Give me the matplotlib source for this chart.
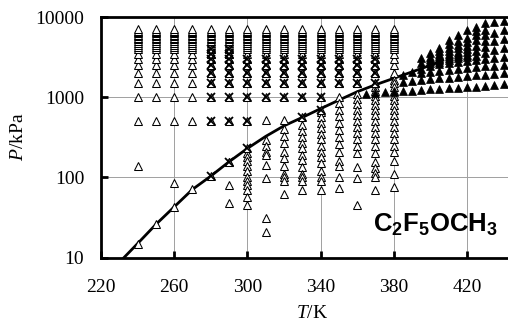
import matplotlib
matplotlib.use("Agg")
import matplotlib.pyplot as plt

# ---------------- data ----------------
# saturation (vapour-pressure) curve
sat_T = [232.5, 240, 250, 260, 270, 280, 290, 300, 310, 320, 330, 340,
         350, 360, 370, 380, 390, 400, 406.8]
sat_P = [10, 15, 26, 43, 71, 104, 157, 230, 325, 440, 560, 720,
         920, 1170, 1430, 1720, 2070, 2500, 2890]

# open triangles: compressed-liquid isotherms (levels above saturation)
liq_T = [240, 250, 260, 270, 280, 290, 300, 310, 320, 330, 340, 350, 360, 370, 380]
liq_P_levels = [1500, 2000, 2500, 3000, 3500, 4000, 4250, 4500, 4750, 5000,
                5250, 5500, 5750, 6000, 6250, 6500, 6750, 7000]
liq_Psat = [15, 26, 43, 71, 104, 157, 230, 325, 440, 560, 720, 920, 1170, 1430, 1720]

# additional open triangles (saturation points, low isobars, odd points)
open_extra_T = [240, 250, 260, 270, 290,
                240, 260,
                240, 250, 260, 270, 240, 250, 260, 270,
                310, 320, 350]
open_extra_P = [15, 26, 43, 71, 157,
                140, 85,
                500, 500, 500, 500, 1000, 1000, 1000, 1000,
                520, 520, 1000]

# open triangles: vapour-phase isotherms (below saturation)
vap_T = [290, 300, 310, 320, 330, 340, 350, 360, 370, 380]
vap_P = [
    [80, 48],
    [200, 180, 160, 140, 120, 100, 90, 80, 70, 57, 45],
    [290, 250, 210, 190, 145, 98, 31, 21],
    [400, 330, 270, 210, 175, 140, 110, 100, 90, 63],
    [450, 380, 320, 270, 230, 190, 165, 135, 110, 100, 90, 70],
    [650, 560, 480, 410, 350, 300, 250, 210, 180, 150, 120, 100, 90, 70],
    [850, 700, 580, 480, 390, 320, 265, 210, 160, 140, 100, 74],
    [1100, 950, 820, 700, 600, 510, 430, 360, 300, 250, 200, 136, 98, 45],
    [1350, 1200, 1050, 920, 800, 700, 600, 510, 430, 360, 300, 250, 200,
     157, 130, 113, 100, 70],
    [1650, 1500, 1350, 1200, 1050, 920, 800, 700, 600, 510, 430, 360, 300,
     250, 210, 160, 110, 77],
]

# crosses: second data set (plotted over triangles)
x_T = [280, 290, 300, 310, 320, 330, 340, 350, 360, 370]
x_P_levels = [1500, 2000, 2500, 3000]
x_extra_T = [280, 290, 300, 330, 340,
             280, 290, 300,
             280, 290, 300, 310, 320, 330, 340,
             280, 280, 290, 290]
x_extra_P = [104, 157, 230, 560, 700,
             500, 500, 500,
             1000, 1000, 1000, 1000, 1000, 1000, 1000,
             3500, 4000, 3500, 4000]

# filled triangles: isochoric data (vapour / supercritical)
sc_T = [365, 370, 375, 380, 385, 390, 395, 400, 405, 410, 415, 420,
        425, 430, 435, 440]
sc_P = [
    [1100],
    [1120],
    [1150],
    [1170],
    [1190, 1560, 1900],
    [1210, 1600, 2050],
    [1230, 1640, 2000, 2250, 2650, 3050],
    [1250, 1680, 2060, 2480, 2700, 2850, 3000, 3200, 3550],
    [1270, 1720, 2120, 2580, 2750, 2900, 3000, 3100, 3250, 3500, 3800, 4150],
    [1290, 1760, 2180, 2660, 2950, 3100, 3250, 3450, 3750, 4150, 4650, 5170],
    [1310, 1800, 2240, 2740, 3050, 3250, 3450, 3700, 4050, 4500, 5050, 5960],
    [1330, 1840, 2300, 2820, 3150, 3400, 3650, 3950, 4350, 4850, 5450, 6880],
    [1350, 1880, 2360, 2900, 3300, 3800, 4400, 5100, 5900, 6700, 7570],
    [1370, 1920, 2420, 3000, 3550, 4200, 5000, 5900, 6900, 8340],
    [1420, 1950, 2470, 3100, 3900, 5000, 6400, 8600],
    [1450, 1990, 2520, 3200, 4070, 5320, 6880, 8900],
]

# ---------------- figure ----------------
plt.rcParams['mathtext.fontset'] = 'custom'
plt.rcParams['mathtext.it'] = 'Liberation Serif:italic'
plt.rcParams['mathtext.rm'] = 'Liberation Sans:bold'
plt.rcParams['mathtext.bf'] = 'Liberation Sans:bold'

fig = plt.figure(figsize=(5.08, 3.23), dpi=100)
ax = fig.add_axes([101 / 508, 1 - 257.7 / 323, 1 - 101 / 508 + 0.002,
                   (257.7 - 17) / 323])

ax.set_yscale('log')
ax.set_xlim(220, 443)
ax.set_ylim(10, 10000)

ax.grid(True, which='major', color='#a0a0a0', linewidth=0.7, zorder=0)
ax.set_axisbelow(True)

# saturation line
ax.plot(sat_T, sat_P, color='black', lw=2.0, zorder=3)

tri_kw = dict(marker='^', ms=5.4, mfc='white', mec='black', mew=0.75,
              linestyle='none', zorder=4)

# liquid grid
lt, lp = [], []
for T, ps in zip(liq_T, liq_Psat):
    for p in liq_P_levels:
        if p > ps:
            lt.append(T)
            lp.append(p)
ax.plot(lt, lp, **tri_kw)
ax.plot(open_extra_T, open_extra_P, **tri_kw)

vt, vp = [], []
for T, ps in zip(vap_T, vap_P):
    for p in ps:
        vt.append(T)
        vp.append(p)
ax.plot(vt, vp, **tri_kw)

# crosses (drawn over open triangles)
xt, xp = [], []
for T in x_T:
    for p in x_P_levels:
        xt.append(T)
        xp.append(p)
xt += x_extra_T
xp += x_extra_P
ax.plot(xt, xp, **tri_kw)
ax.plot(xt, xp, marker='x', ms=5.2, mec='black', mew=1.3,
        linestyle='none', zorder=5)

# filled triangles
ft, fp = [], []
for T, ps in zip(sc_T, sc_P):
    for p in ps:
        ft.append(T)
        fp.append(p)
ax.plot(ft, fp, marker='^', ms=5.4, mfc='black', mec='black', mew=0.5,
        linestyle='none', zorder=4)

# axes styling
for s in ['left', 'bottom', 'top']:
    ax.spines[s].set_linewidth(2.0)
ax.spines['right'].set_visible(False)

x_ticks = [220, 260, 300, 340, 380, 420]
y_ticks = [10, 100, 1000, 10000]
ax.set_xticks(x_ticks)
ax.set_xticklabels([str(t) for t in x_ticks])
ax.set_yticks(y_ticks)
ax.set_yticklabels([str(t) for t in y_ticks])
ax.minorticks_off()
ax.tick_params(axis='both', direction='in', length=5, width=2.0,
               labelsize=14)
ax.tick_params(axis='x', pad=15)
ax.tick_params(axis='y', pad=12)
for lab in ax.get_xticklabels() + ax.get_yticklabels():
    lab.set_fontfamily('Liberation Serif')

ax.set_xlabel(r'$T$/K', fontsize=14, family='Liberation Serif')
ax.set_ylabel(r'$P$/kPa', fontsize=14, family='Liberation Serif')
ax.xaxis.label.set_va('center')
ax.yaxis.label.set_va('center')
ax.xaxis.set_label_coords((312 - 101) / 407, -(313 - 257.7) / 240.7)
ax.yaxis.set_label_coords(-(101 - 19) / 407, (257.7 - 137) / 240.7)

ax.text(368.5, 21, r'$\mathrm{C_2F_5OCH_3}$', fontsize=18.5,
        ha='left', va='baseline', zorder=6)

fig.savefig('out.png', dpi=100)
